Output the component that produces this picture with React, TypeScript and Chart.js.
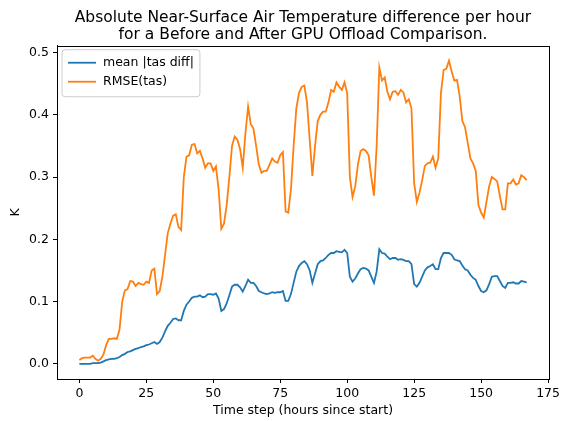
import React, { useEffect, useRef } from "react";
import { Chart, registerables } from "chart.js";

Chart.register(...registerables);

const titleLines = [
  "Absolute Near-Surface Air Temperature difference per hour",
  "for a Before and After GPU Offload Comparison.",
];
const xLabel = "Time step (hours since start)";
const yLabel = "K";
const seriesNames = ["mean |tas diff|", "RMSE(tas)"];
const xTicks = [0, 25, 50, 75, 100, 125, 150, 175];
const yTicks = [0, 0.1, 0.2, 0.3, 0.4, 0.5];

const meanDiff = [
  0.0, 0.0, 0.0, 0.0, 0.0, 0.001, 0.001, 0.001, 0.002, 0.004,
  0.006, 0.007, 0.008, 0.008, 0.009, 0.011, 0.014, 0.016, 0.019, 0.02,
  0.022, 0.024, 0.025, 0.027, 0.028, 0.03, 0.031, 0.033, 0.035, 0.032,
  0.035, 0.042, 0.052, 0.061, 0.066, 0.072, 0.073, 0.07, 0.07, 0.085,
  0.095, 0.1, 0.106, 0.108, 0.108, 0.11, 0.107, 0.108, 0.112, 0.112,
  0.111, 0.113, 0.105, 0.085, 0.088, 0.097, 0.11, 0.124, 0.127, 0.127,
  0.123, 0.116, 0.125, 0.135, 0.13, 0.13, 0.125, 0.117, 0.115, 0.113,
  0.112, 0.113, 0.115, 0.114, 0.115, 0.115, 0.117, 0.101, 0.101, 0.112,
  0.13, 0.148, 0.157, 0.162, 0.165, 0.16, 0.15, 0.13, 0.145, 0.16,
  0.165, 0.166, 0.17, 0.175, 0.178, 0.178, 0.181, 0.18, 0.179, 0.183,
  0.178, 0.14, 0.132, 0.137, 0.145, 0.152, 0.154, 0.153, 0.15, 0.14,
  0.13, 0.148, 0.184, 0.178, 0.177, 0.172, 0.168, 0.17, 0.17, 0.167,
  0.168, 0.167, 0.165, 0.165, 0.16, 0.128, 0.124, 0.13, 0.14, 0.15,
  0.155, 0.157, 0.16, 0.152, 0.152, 0.17, 0.178, 0.178, 0.178, 0.175,
  0.168, 0.166, 0.165, 0.158, 0.152, 0.15, 0.143, 0.138, 0.135, 0.125,
  0.117, 0.115, 0.118, 0.128, 0.14, 0.141, 0.141, 0.133, 0.125, 0.122,
  0.13, 0.13, 0.131, 0.129, 0.129, 0.133, 0.132, 0.131,
];

const rmse = [
  0.006, 0.009, 0.01, 0.01, 0.01, 0.013, 0.008, 0.005, 0.008, 0.015,
  0.03, 0.04, 0.04, 0.041, 0.04, 0.055, 0.1, 0.118, 0.12, 0.133,
  0.132, 0.125, 0.13, 0.128, 0.127, 0.132, 0.13, 0.15, 0.153, 0.112,
  0.117, 0.14, 0.175, 0.21, 0.225, 0.238, 0.24, 0.22, 0.215, 0.3,
  0.333, 0.335, 0.352, 0.353, 0.338, 0.342, 0.33, 0.315, 0.322, 0.322,
  0.31, 0.317, 0.28, 0.217, 0.225, 0.255, 0.3, 0.35, 0.365, 0.36,
  0.345, 0.315, 0.37, 0.413, 0.385, 0.378, 0.35, 0.32, 0.307, 0.31,
  0.31, 0.32, 0.33, 0.325, 0.323, 0.335, 0.34, 0.245, 0.243, 0.28,
  0.35, 0.41, 0.435, 0.445, 0.447, 0.42, 0.36, 0.302, 0.35, 0.39,
  0.4, 0.405, 0.405, 0.42, 0.44, 0.437, 0.452, 0.445, 0.44, 0.452,
  0.435, 0.3, 0.268, 0.285, 0.32, 0.342, 0.345, 0.342, 0.335, 0.3,
  0.27, 0.35, 0.476, 0.455, 0.46, 0.437, 0.425, 0.437, 0.438, 0.432,
  0.44, 0.436, 0.42, 0.425, 0.41, 0.29, 0.26, 0.275, 0.295, 0.318,
  0.322, 0.323, 0.333, 0.315, 0.33, 0.435, 0.472, 0.474, 0.487, 0.47,
  0.455, 0.456, 0.43, 0.39, 0.38, 0.355, 0.33, 0.322, 0.31, 0.255,
  0.243, 0.235, 0.26, 0.285, 0.3, 0.297, 0.293, 0.27, 0.248, 0.248,
  0.29, 0.29, 0.296, 0.288, 0.29, 0.303, 0.3, 0.295,
];

const colors = ["#1f77b4", "#ff7f0e"];
const FONT = "'DejaVu Sans', sans-serif";
const SMALL = 12.5;

const frameAndLegend = {
  id: "frameAndLegend",
  afterDraw(chart: any) {
    const { ctx, chartArea } = chart;
    ctx.save();
    ctx.strokeStyle = "#000";
    ctx.lineWidth = 1;
    ctx.strokeRect(
      Math.round(chartArea.left) + 0.5,
      Math.round(chartArea.top) + 0.5,
      Math.round(chartArea.right - chartArea.left),
      Math.round(chartArea.bottom - chartArea.top)
    );
    const lx = chartArea.left + 5;
    const ly = chartArea.top + 4;
    ctx.font = `${SMALL}px ${FONT}`;
    const maxW = Math.max(...seriesNames.map((s) => ctx.measureText(s).width));
    const w = 41 + maxW + 6;
    const h = 47;
    const r = 3;
    ctx.beginPath();
    ctx.moveTo(lx + r, ly);
    ctx.lineTo(lx + w - r, ly);
    ctx.arcTo(lx + w, ly, lx + w, ly + r, r);
    ctx.lineTo(lx + w, ly + h - r);
    ctx.arcTo(lx + w, ly + h, lx + w - r, ly + h, r);
    ctx.lineTo(lx + r, ly + h);
    ctx.arcTo(lx, ly + h, lx, ly + h - r, r);
    ctx.lineTo(lx, ly + r);
    ctx.arcTo(lx, ly, lx + r, ly, r);
    ctx.closePath();
    ctx.fillStyle = "rgba(255,255,255,0.8)";
    ctx.fill();
    ctx.strokeStyle = "#cccccc";
    ctx.lineWidth = 1;
    ctx.stroke();
    seriesNames.forEach((name, i) => {
      const y = ly + 13 + i * 19;
      ctx.strokeStyle = colors[i];
      ctx.lineWidth = 1.8;
      ctx.beginPath();
      ctx.moveTo(lx + 6, y);
      ctx.lineTo(lx + 34, y);
      ctx.stroke();
      ctx.fillStyle = "#000";
      ctx.textBaseline = "middle";
      ctx.textAlign = "left";
      ctx.fillText(name, lx + 41, y);
    });
    ctx.restore();
  },
};

export default function App() {
  const ref = useRef<HTMLCanvasElement>(null);
  useEffect(() => {
    document.body.style.margin = "0";
    const hours = meanDiff.map((_, i) => i);
    const chart = new Chart(ref.current!, {
      type: "line",
      data: {
        datasets: [
          {
            label: seriesNames[0],
            data: hours.map((h) => ({ x: h, y: meanDiff[h] })),
            borderColor: colors[0],
            backgroundColor: colors[0],
            borderWidth: 1.8,
            pointRadius: 0,
            tension: 0,
          },
          {
            label: seriesNames[1],
            data: hours.map((h) => ({ x: h, y: rmse[h] })),
            borderColor: colors[1],
            backgroundColor: colors[1],
            borderWidth: 1.8,
            pointRadius: 0,
            tension: 0,
          },
        ],
      },
      options: {
        animation: false,
        responsive: false,
        layout: { padding: { left: 0, right: 13, top: 0, bottom: 0 } },
        plugins: {
          legend: { display: false },
          tooltip: { enabled: false },
          title: {
            display: true,
            fullSize: false,
            text: titleLines,
            color: "#000",
            font: { family: FONT, size: 15.5, weight: "normal", lineHeight: 1.12 },
            padding: { top: 9, bottom: 2 },
          },
        },
        scales: {
          x: {
            type: "linear",
            min: -8.35,
            max: 175.35,
            afterBuildTicks: (s: any) => {
              s.ticks = xTicks.map((v) => ({ value: v }));
            },
            afterFit: (s: any) => {
              s.height = 42;
              s.paddingLeft = 0;
              s.paddingRight = 0;
            },
            ticks: {
              color: "#000",
              font: { family: FONT, size: SMALL },
              padding: 3,
              maxRotation: 0,
              autoSkip: false,
              callback: (v: any) => String(v),
            },
            grid: {
              display: true,
              drawOnChartArea: false,
              drawTicks: true,
              tickLength: 4,
              color: "#000",
            },
            border: { display: true, color: "#000" },
            title: {
              display: true,
              text: xLabel,
              color: "#000",
              font: { family: FONT, size: SMALL },
              padding: { top: 2, bottom: 3 },
            },
          },
          y: {
            type: "linear",
            min: -0.0244,
            max: 0.511,
            afterBuildTicks: (s: any) => {
              s.ticks = yTicks.map((v) => ({ value: v }));
            },
            afterFit: (s: any) => {
              s.width = 57;
              s.paddingTop = 0;
              s.paddingBottom = 0;
            },
            ticks: {
              color: "#000",
              font: { family: FONT, size: SMALL },
              padding: 4,
              autoSkip: false,
              callback: (v: any) => Number(v).toFixed(1),
            },
            grid: {
              display: true,
              drawOnChartArea: false,
              drawTicks: true,
              tickLength: 4,
              color: "#000",
            },
            border: { display: true, color: "#000" },
            title: {
              display: true,
              text: yLabel,
              color: "#000",
              font: { family: FONT, size: SMALL },
              padding: { top: 8, bottom: 4 },
            },
          },
        },
      },
      plugins: [frameAndLegend],
    });
    return () => chart.destroy();
  }, []);
  return <canvas ref={ref} width={562} height={421} style={{ display: "block" }} />;
}
